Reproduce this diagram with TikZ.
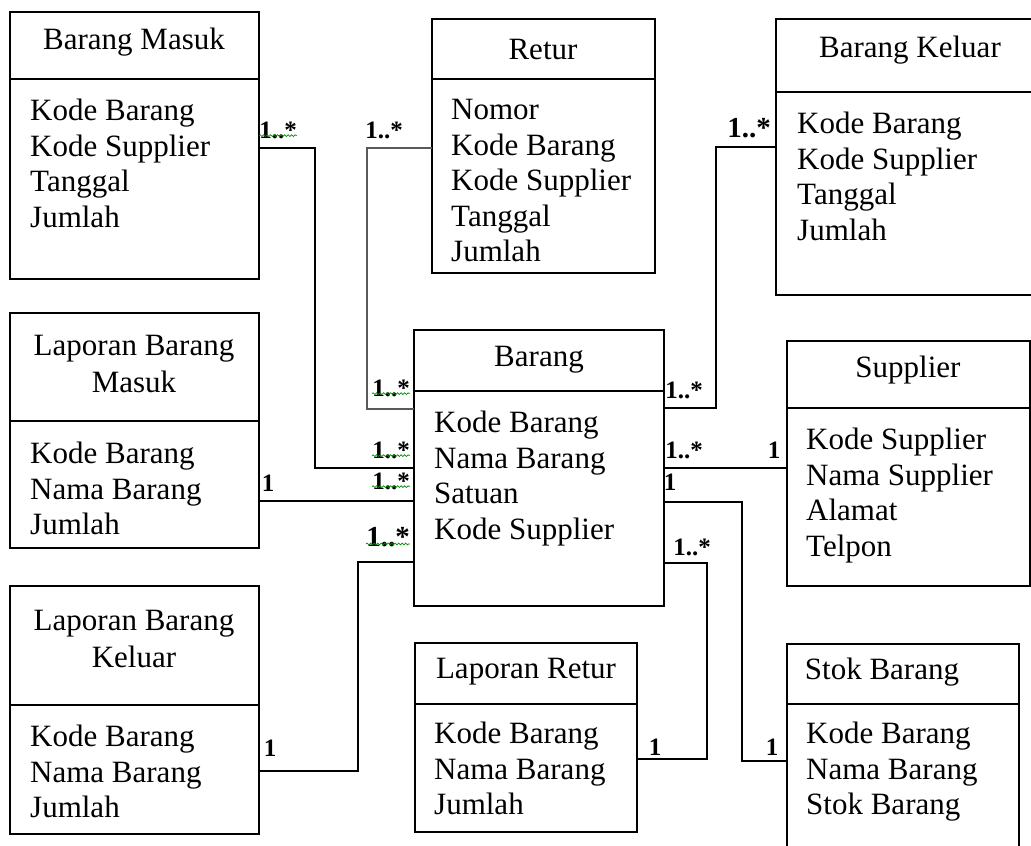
\documentclass[tikz,border=0pt]{standalone}
\usepackage{fontspec}
\setmainfont{Liberation Serif}
\usetikzlibrary{decorations.pathmorphing}

\tikzset{
  classbox/.style={draw, line width=1.4pt, inner sep=0pt, outer sep=0pt, anchor=north west},
  divider/.style={line width=1.4pt},
  classtitle/.style={font=\fontsize{31}{37}\selectfont, align=center, inner sep=0pt},
  attrs/.style={font=\fontsize{31}{35.5}\selectfont, align=left, anchor=north west, inner sep=0pt},
  link/.style={line width=1.3pt},
  greylink/.style={line width=1.9pt, draw=black!65},
  mult/.style={font=\bfseries\fontsize{25}{27}\selectfont, inner sep=0pt},
  bigmult/.style={font=\bfseries\fontsize{29}{31}\selectfont, inner sep=0pt},
  spell/.style={draw=green!55!black, line width=0.7pt, decorate,
    decoration={snake, amplitude=0.9pt, segment length=3.5pt}}
}

\begin{document}
\begin{tikzpicture}[x=1pt,y=-1pt]
\useasboundingbox (0,0) rectangle (1031,846);
\clip (0,0) rectangle (1031,846);
\fill[white] (0,0) rectangle (1031,846);

% class boxes
\node[classbox, minimum width=249pt, minimum height=267pt] (bm)     at (10,12)  {};
\node[classbox, minimum width=223pt, minimum height=254pt] (retur)  at (432,19) {};
\node[classbox, minimum width=270pt, minimum height=276pt] (bk)     at (776,19) {};
\node[classbox, minimum width=250pt, minimum height=276pt] (barang) at (414,330) {};
\node[classbox, minimum width=243pt, minimum height=245pt] (supp)   at (787,341) {};
\node[classbox, minimum width=249pt, minimum height=235pt] (lbm)    at (10,313) {};
\node[classbox, minimum width=249pt, minimum height=248pt] (lbk)    at (10,586) {};
\node[classbox, minimum width=222pt, minimum height=189pt] (lr)     at (415,643) {};
\node[classbox, minimum width=232pt, minimum height=220pt] (stok)   at (787,644) {};

% compartment dividers
\draw[divider] (bm.west |- 0,79)      -- (bm.east |- 0,79);
\draw[divider] (retur.west |- 0,79)   -- (retur.east |- 0,79);
\draw[divider] (bk.west |- 0,92)      -- (bk.east |- 0,92);
\draw[divider] (barang.west |- 0,391) -- (barang.east |- 0,391);
\draw[divider] (supp.west |- 0,408)   -- (supp.east |- 0,408);
\draw[divider] (lbm.west |- 0,421)    -- (lbm.east |- 0,421);
\draw[divider] (lbk.west |- 0,705)    -- (lbk.east |- 0,705);
\draw[divider] (lr.west |- 0,704)     -- (lr.east |- 0,704);
\draw[divider] (stok.west |- 0,704)   -- (stok.east |- 0,704);

% class names
\node[classtitle] (tbm)     at (134,42)  {Barang Masuk};
\node[classtitle] (tretur)  at (543,50)  {Retur};
\node[classtitle] (tbk)     at (910,50)  {Barang Keluar};
\node[classtitle] (tbarang) at (539,360) {Barang};
\node[classtitle] (tsupp)   at (908,370) {Supplier};
\node[classtitle] (tlbm)    at (134,364) {Laporan Barang\\Masuk};
\node[classtitle] (tlbk)    at (134,639) {Laporan Barang\\Keluar};
\node[classtitle] (tlr)     at (526,672) {Laporan Retur};
\node[classtitle] (tstok)   at (882,672) {Stok Barang};

% attributes
\node[attrs] (abm)     at (30,99)   {Kode Barang\\Kode Supplier\\Tanggal\\Jumlah};
\node[attrs] (aretur)  at (451,99)  {Nomor\\Kode Barang\\Kode Supplier\\Tanggal\\Jumlah};
\node[attrs] (abk)     at (797,112) {Kode Barang\\Kode Supplier\\Tanggal\\Jumlah};
\node[attrs] (abarang) at (434,411) {Kode Barang\\Nama Barang\\Satuan\\Kode Supplier};
\node[attrs] (asupp)   at (806,428) {Kode Supplier\\Nama Supplier\\Alamat\\Telpon};
\node[attrs] (albm)    at (30,442)  {Kode Barang\\Nama Barang\\Jumlah};
\node[attrs] (albk)    at (30,725)  {Kode Barang\\Nama Barang\\Jumlah};
\node[attrs] (alr)     at (434,722) {Kode Barang\\Nama Barang\\Jumlah};
\node[attrs] (astok)   at (806,722) {Kode Barang\\Nama Barang\\Stok Barang};

% associations
\draw[link]     (bm.east |- 0,148)     -| (315,468) -- (barang.west |- 0,468);
\draw[greylink] (retur.west |- 0,148)  -| (367,409) -- (barang.west |- 0,409);
\draw[link]     (bk.west |- 0,147)     -| (716,408) -- (barang.east |- 0,408);
\draw[link]     (barang.east |- 0,468) -- (supp.west |- 0,468);
\draw[link]     (barang.east |- 0,502) -| (742,761) -- (stok.west |- 0,761);
\draw[link]     (barang.east |- 0,563) -| (707,759) -- (lr.east |- 0,759);
\draw[link]     (lbm.east |- 0,501)    -- (barang.west |- 0,501);
\draw[link]     (lbk.east |- 0,771)    -| (358,562) -- (barang.west |- 0,562);

% multiplicities
\node[mult]    (m1)  at (278,130) {1..*};
\node[mult]    (m2)  at (384,130) {1..*};
\node[bigmult] (m3)  at (749,128) {1..*};
\node[mult]    (m4)  at (391,388) {1..*};
\node[mult]    (m5)  at (391,450) {1..*};
\node[mult]    (m6)  at (391,481) {1..*};
\node[bigmult] (m7)  at (388,537) {1..*};
\node[mult]    (m8)  at (268,483) {1};
\node[mult]    (m9)  at (270,748) {1};
\node[mult]    (m10) at (684,390) {1..*};
\node[mult]    (m11) at (684,450) {1..*};
\node[mult]    (m12) at (774,450) {1};
\node[mult]    (m13) at (670,482) {1};
\node[mult]    (m14) at (692,547) {1..*};
\node[mult]    (m15) at (655,747) {1};
\node[mult]    (m16) at (772,747) {1};

% wavy marks under some multiplicities
\foreach \m in {m1,m4,m5,m6,m7}
  \draw[spell] ([yshift=3pt]\m.south west) -- ([yshift=3pt]\m.south east);
\end{tikzpicture}
\end{document}
